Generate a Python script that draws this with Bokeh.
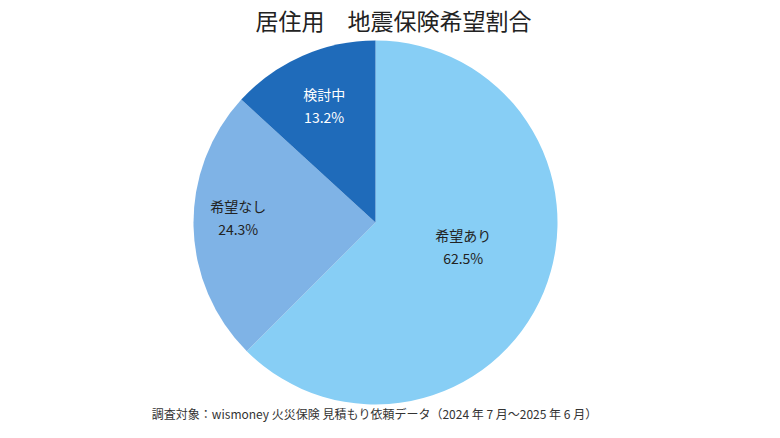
import math
from bokeh.plotting import figure
from bokeh.models import Range1d, ColumnDataSource
from bokeh.core.properties import value
from bokeh.embed import file_html
from bokeh.resources import INLINE

# ---- data ----
categories = ["希望あり", "希望なし", "検討中"]
shares = [62.5, 24.3, 13.2]
colors = ["#87CEF5", "#7FB3E6", "#1F6BBA"]
label_colors = ["#222222", "#222222", "#FFFFFF"]
title_text = "居住用　地震保険希望割合"
note_text = "調査対象：wismoney 火災保険 見積もり依頼データ（2024 年 7 月～2025 年 6 月）"

# ---- layout/style ----
W, H = 764, 422
cx, cy, R = 375, 200, 182
label_rfrac = [0.50, 0.755, 0.70]
label_dtheta = [7.0, -3.4, 0.0]  # degrees
FONT = "Noto Sans CJK JP"

p = figure(width=W, height=H, output_backend="svg", toolbar_location=None,
           x_range=Range1d(0, W), y_range=Range1d(0, H), min_border=0)
p.axis.visible = False
p.grid.visible = False
p.outline_line_color = None
p.background_fill_color = "white"
p.border_fill_color = "white"

total = sum(shares)
starts, ends, lx, ly1, ly2, pct = [], [], [], [], [], []
cum = 0.0
for i, s in enumerate(shares):
    a0 = math.pi / 2 - 2 * math.pi * cum / total
    cum += s
    a1 = math.pi / 2 - 2 * math.pi * cum / total
    starts.append(a0)
    ends.append(a1)
    mid = (a0 + a1) / 2 + math.radians(label_dtheta[i])
    r = R * label_rfrac[i]
    x = cx + r * math.cos(mid)
    y = cy + r * math.sin(mid)
    lx.append(x)
    ly1.append(y + 11.5)
    ly2.append(y - 11.5)
    pct.append(f"{s:.1f}%")

src = ColumnDataSource(dict(start=starts, end=ends, color=colors,
                            x=[cx] * 3, y=[cy] * 3))
p.wedge(x="x", y="y", radius=R, start_angle="start", end_angle="end",
        direction="clock", fill_color="color", line_color=None, source=src)

lsrc = ColumnDataSource(dict(x=lx, y1=ly1, y2=ly2, name=categories, pct=pct,
                             tc=label_colors))
p.text(x="x", y="y1", text="name", text_color="tc", text_align="center",
       text_baseline="middle", text_font=value(FONT), text_font_size="14px",
       source=lsrc)
p.text(x="x", y="y2", text="pct", text_color="tc", text_align="center",
       text_baseline="middle", text_font=value(FONT), text_font_size="14px",
       source=lsrc)

p.text(x=[393], y=[403], text=[title_text], text_align="center",
       text_baseline="middle", text_font=value(FONT), text_font_size="23px",
       text_color="#222222")
p.text(x=[374], y=[9], text=[note_text], text_align="center",
       text_baseline="middle", text_font=value(FONT), text_font_size="12px",
       text_color="#333333")

open("out.html", "w").write(file_html(p, INLINE))
